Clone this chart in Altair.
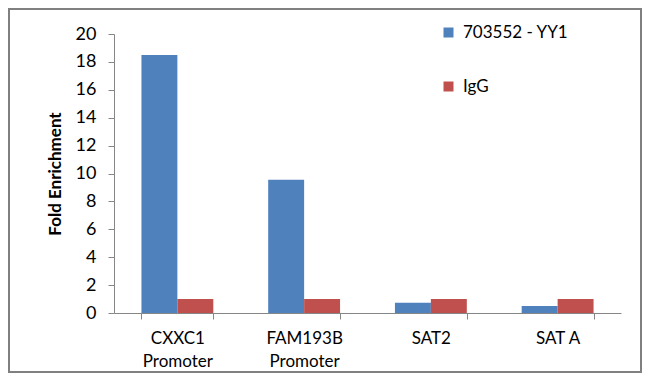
import altair as alt
import pandas as pd

categories = ["CXXC1\nPromoter", "FAM193B\nPromoter", "SAT2", "SAT A"]
series_names = ["703552 - YY1", "IgG"]
yy1_values = [18.5, 9.55, 0.74, 0.5]
igg_values = [1.0, 1.0, 1.0, 1.0]
y_ticks = [0, 2, 4, 6, 8, 10, 12, 14, 16, 18, 20]
colors = ["#4F81BD", "#C0504D"]

rows = []
for c, a, b in zip(categories, yy1_values, igg_values):
    rows.append({"category": c, "series": series_names[0], "value": a})
    rows.append({"category": c, "series": series_names[1], "value": b})
df = pd.DataFrame(rows)

axis_gray = "#868686"

bars = alt.Chart(df).mark_bar().encode(
    x=alt.X(
        "category:N",
        sort=categories,
        title=None,
        scale=alt.Scale(paddingInner=0.433, paddingOuter=0.2165),
        axis=alt.Axis(
            labelAngle=0,
            labelExpr="split(datum.label, '\\n')",
            labelFontSize=17,
            labelLineHeight=23,
            labelPadding=11,
            labelColor="#000000",
            tickBand="extent",
            tickSize=6,
            tickColor=axis_gray,
            domainColor=axis_gray,
            grid=False,
        ),
    ),
    xOffset=alt.XOffset("series:N", sort=series_names, scale=alt.Scale(paddingInner=0, paddingOuter=0)),
    y=alt.Y(
        "value:Q",
        scale=alt.Scale(domain=[0, 20], nice=False),
        title="Fold Enrichment",
        axis=alt.Axis(
            values=y_ticks,
            labelFontSize=18,
            labelPadding=12,
            labelColor="#000000",
            tickSize=6,
            tickColor=axis_gray,
            domainColor=axis_gray,
            grid=False,
            titleFontSize=17,
            titleFontWeight="bold",
            titleColor="#000000",
            titleAngle=-90,
            titleX=-59,
            titleY=139.5,
            titleAlign="center",
            titleBaseline="middle",
        ),
    ),
    color=alt.Color(
        "series:N",
        sort=series_names,
        scale=alt.Scale(domain=series_names, range=colors),
        legend=alt.Legend(
            title=None,
            orient="none",
            legendX=326,
            legendY=-10,
            symbolType="square",
            symbolSize=100,
            symbolStrokeWidth=0,
            labelFontSize=17,
            labelColor="#000000",
            labelOffset=6,
            rowPadding=36,
            padding=0,
        ),
    ),
)

frame = alt.Chart(pd.DataFrame({"frame": [0]})).mark_rect(
    fill="transparent", stroke="#808080", strokeWidth=2
).encode(
    x=alt.value(-105),
    x2=alt.value(527),
    y=alt.value(-25),
    y2=alt.value(338),
)

chart = alt.layer(bars, frame).properties(
    width=507,
    height=279,
    autosize=alt.AutoSizeParams(type="none"),
    padding={"left": 106, "top": 26, "right": 21, "bottom": 60},
).configure(
    font="Lato",
).configure_view(
    stroke=None,
)

chart.save("out.html", embed_options={"renderer": "svg", "actions": False})
